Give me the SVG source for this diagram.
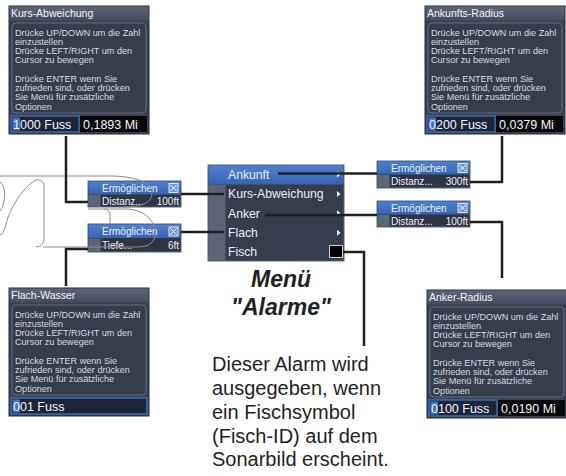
<svg xmlns="http://www.w3.org/2000/svg" width="566" height="476" viewBox="0 0 566 476">
<defs>
<linearGradient id="tg" x1="0" y1="0" x2="0" y2="1"><stop offset="0" stop-color="#5d6577"/><stop offset="1" stop-color="#454c5d"/></linearGradient>
<linearGradient id="bg" x1="0" y1="0" x2="0" y2="1"><stop offset="0" stop-color="#4f82d2"/><stop offset="1" stop-color="#3563b0"/></linearGradient>
<style>
.pan{fill:#3a4150;stroke:#262b36;stroke-width:1}
.ttl{fill:url(#tg)}
.tt{font-family:"Liberation Sans",Arial,sans-serif;font-size:10.5px;fill:#f2f4f8}
.box{fill:#363d4b;stroke:#646d7e;stroke-width:1}
.tx{font-family:"Liberation Sans",Arial,sans-serif;font-size:9.1px;fill:#d6dae2}
.fl{fill:#1d2639;stroke:#3d6ab4;stroke-width:1.5}
.hl{fill:#3f74c8}
.fr{fill:#060709}
.ft{font-family:"Liberation Sans",Arial,sans-serif;font-size:12.5px;fill:#f4f6fa}
.sp{fill:#2e3544;stroke:#606878;stroke-width:1}
.bl{fill:url(#bg)}
.st{font-family:"Liberation Sans",Arial,sans-serif;font-size:10px;fill:#eef2fa}
.sq{fill:#5d6678}
.cb{fill:#6b95d6;stroke:#ffffff;stroke-width:0.8}
.cx{stroke:#ffffff;stroke-width:1}
.mt{font-family:"Liberation Sans",Arial,sans-serif;font-size:12.2px;fill:#eceef3}
.ar{fill:#ffffff}
.wm{fill:none;stroke:#8c8c8c;stroke-width:1}
.cn{fill:none;stroke:#231f20;stroke-width:2.5}
.big{font-family:"Liberation Sans",Arial,sans-serif;font-size:23px;font-weight:bold;font-style:italic;fill:#231f20}
.cap{font-family:"Liberation Sans",Arial,sans-serif;font-size:20px;fill:#231f20}
</style>
</defs>
<rect width="566" height="476" fill="#ffffff"/>

<g id="kurs-abweichung" transform="translate(9,6)">
<rect class="pan" x="0" y="0" width="140" height="128"/>
<rect class="ttl" x="0.5" y="0.5" width="139" height="14"/>
<text class="tt" x="2" y="11">Kurs-Abweichung</text>
<rect class="box" x="3" y="17" width="134" height="90" rx="4"/>
<text class="tx" x="6" y="29.5">Drücke UP/DOWN um die Zahl</text>
<text class="tx" x="6" y="38.75">einzustellen</text>
<text class="tx" x="6" y="48">Drücke LEFT/RIGHT um den</text>
<text class="tx" x="6" y="57.25">Cursor zu bewegen</text>
<text class="tx" x="6" y="75.75">Drücke ENTER wenn Sie</text>
<text class="tx" x="6" y="85">zufrieden sind, oder drücken</text>
<text class="tx" x="6" y="94.25">Sie Menü für zusätzliche</text>
<text class="tx" x="6" y="103.5">Optionen</text>
<rect class="fl" x="2" y="110" width="68" height="16"/>
<rect class="hl" x="3.5" y="111.5" width="7.5" height="13"/>
<text class="ft" x="4" y="122.5">1000 Fuss</text>
<rect class="fr" x="71" y="110" width="67" height="16"/>
<text class="ft" x="74" y="122.5">0,1893 Mi</text>
</g>

<g id="ankunfts-radius" transform="translate(425,6)">
<rect class="pan" x="0" y="0" width="140" height="128"/>
<rect class="ttl" x="0.5" y="0.5" width="139" height="14"/>
<text class="tt" x="2" y="11">Ankunfts-Radius</text>
<rect class="box" x="3" y="17" width="134" height="90" rx="4"/>
<text class="tx" x="6" y="29.5">Drücke UP/DOWN um die Zahl</text>
<text class="tx" x="6" y="38.75">einzustellen</text>
<text class="tx" x="6" y="48">Drücke LEFT/RIGHT um den</text>
<text class="tx" x="6" y="57.25">Cursor zu bewegen</text>
<text class="tx" x="6" y="75.75">Drücke ENTER wenn Sie</text>
<text class="tx" x="6" y="85">zufrieden sind, oder drücken</text>
<text class="tx" x="6" y="94.25">Sie Menü für zusätzliche</text>
<text class="tx" x="6" y="103.5">Optionen</text>
<rect class="fl" x="2" y="110" width="68" height="16"/>
<rect class="hl" x="3.5" y="111.5" width="7.5" height="13"/>
<text class="ft" x="4" y="122.5">0200 Fuss</text>
<rect class="fr" x="71" y="110" width="67" height="16"/>
<text class="ft" x="74" y="122.5">0,0379 Mi</text>
</g>

<g id="flach-wasser" transform="translate(9,288)">
<rect class="pan" x="0" y="0" width="140" height="128"/>
<rect class="ttl" x="0.5" y="0.5" width="139" height="14"/>
<text class="tt" x="2" y="11">Flach-Wasser</text>
<rect class="box" x="3" y="17" width="134" height="90" rx="4"/>
<text class="tx" x="6" y="29.5">Drücke UP/DOWN um die Zahl</text>
<text class="tx" x="6" y="38.75">einzustellen</text>
<text class="tx" x="6" y="48">Drücke LEFT/RIGHT um den</text>
<text class="tx" x="6" y="57.25">Cursor zu bewegen</text>
<text class="tx" x="6" y="75.75">Drücke ENTER wenn Sie</text>
<text class="tx" x="6" y="85">zufrieden sind, oder drücken</text>
<text class="tx" x="6" y="94.25">Sie Menü für zusätzliche</text>
<text class="tx" x="6" y="103.5">Optionen</text>
<rect class="fl" x="2" y="110" width="136" height="16"/>
<rect class="hl" x="3.5" y="111.5" width="7.5" height="13"/>
<text class="ft" x="4" y="122.5">001 Fuss</text>
</g>

<g id="anker-radius" transform="translate(427,290)">
<rect class="pan" x="0" y="0" width="140" height="128"/>
<rect class="ttl" x="0.5" y="0.5" width="139" height="14"/>
<text class="tt" x="2" y="11">Anker-Radius</text>
<rect class="box" x="3" y="17" width="134" height="90" rx="4"/>
<text class="tx" x="6" y="29.5">Drücke UP/DOWN um die Zahl</text>
<text class="tx" x="6" y="38.75">einzustellen</text>
<text class="tx" x="6" y="48">Drücke LEFT/RIGHT um den</text>
<text class="tx" x="6" y="57.25">Cursor zu bewegen</text>
<text class="tx" x="6" y="75.75">Drücke ENTER wenn Sie</text>
<text class="tx" x="6" y="85">zufrieden sind, oder drücken</text>
<text class="tx" x="6" y="94.25">Sie Menü für zusätzliche</text>
<text class="tx" x="6" y="103.5">Optionen</text>
<rect class="fl" x="2" y="110" width="68" height="16"/>
<rect class="hl" x="3.5" y="111.5" width="7.5" height="13"/>
<text class="ft" x="4" y="122.5">0100 Fuss</text>
<rect class="fr" x="71" y="110" width="67" height="16"/>
<text class="ft" x="74" y="122.5">0,0190 Mi</text>
</g>

<g id="menu">
<rect x="208" y="165" width="136" height="96" fill="#363d4c" stroke="#5f6779" stroke-width="1"/>
<rect x="208.5" y="184.5" width="17" height="76" fill="#5b6375"/>
<rect class="bl" x="208.5" y="165.5" width="135" height="19"/>
<text class="mt" x="228" y="179">Ankunft</text>
<text class="mt" x="228" y="198.3">Kurs-Abweichung</text>
<text class="mt" x="228" y="217.6">Anker</text>
<text class="mt" x="228" y="237">Flach</text>
<text class="mt" x="228" y="256.3">Fisch</text>
<path class="ar" d="M337,171.5 L340.5,174.5 L337,177.5Z M337,191 L340.5,194 L337,197Z M337,210.3 L340.5,213.3 L337,216.3Z M337,229.7 L340.5,232.7 L337,235.7Z"/>
<rect x="329.5" y="245.5" width="13" height="12" fill="#000000" stroke="#c9ccd3" stroke-width="1"/>
</g>

<g id="opt-kurs" transform="translate(88,181)">
<rect class="sp" x="0" y="0" width="93" height="26"/>
<rect class="bl" x="0.5" y="0.5" width="92" height="13"/>
<text class="st" x="14" y="10.5">Ermöglichen</text>
<rect class="cb" x="81" y="2.5" width="9" height="9"/>
<path class="cx" d="M82.5,4 L88.5,10 M88.5,4 L82.5,10"/>
<rect class="sq" x="0.5" y="14" width="12" height="11.5"/>
<text class="st" x="14" y="23.5" fill="#dde1e8">Distanz...</text>
<text class="st" x="91" y="23.5" text-anchor="end">100ft</text>
</g>

<g id="opt-flach" transform="translate(88,224)">
<rect class="sp" x="0" y="0" width="93" height="28"/>
<rect class="bl" x="0.5" y="0.5" width="92" height="13.5"/>
<text class="st" x="14" y="11">Ermöglichen</text>
<rect class="cb" x="81" y="3" width="9" height="9"/>
<path class="cx" d="M82.5,4.5 L88.5,10.5 M88.5,4.5 L82.5,10.5"/>
<rect class="sq" x="0.5" y="14.5" width="12" height="13"/>
<text class="st" x="14" y="25">Tiefe...</text>
<text class="st" x="91" y="25" text-anchor="end">6ft</text>
</g>

<g id="opt-ankunft" transform="translate(377,161)">
<rect class="sp" x="0" y="0" width="93" height="27"/>
<rect class="bl" x="0.5" y="0.5" width="92" height="13"/>
<text class="st" x="14" y="10.5">Ermöglichen</text>
<rect class="cb" x="81" y="2.5" width="9" height="9"/>
<path class="cx" d="M82.5,4 L88.5,10 M88.5,4 L82.5,10"/>
<rect class="sq" x="0.5" y="14" width="12" height="12.5"/>
<text class="st" x="14" y="24">Distanz...</text>
<text class="st" x="91" y="24" text-anchor="end">300ft</text>
</g>

<g id="opt-anker" transform="translate(377,201)">
<rect class="sp" x="0" y="0" width="93" height="26"/>
<rect class="bl" x="0.5" y="0.5" width="92" height="13"/>
<text class="st" x="14" y="10.5">Ermöglichen</text>
<rect class="cb" x="81" y="2.5" width="9" height="9"/>
<path class="cx" d="M82.5,4 L88.5,10 M88.5,4 L82.5,10"/>
<rect class="sq" x="0.5" y="14" width="12" height="11.5"/>
<text class="st" x="14" y="23.5">Distanz...</text>
<text class="st" x="91" y="23.5" text-anchor="end">100ft</text>
</g>

<g id="watermark">
<path class="wm" d="M0,176 H110 C124,176 140,178 148,185 C154,191 153,199 146,203 C140,206 131,207 123,207"/>
<path class="wm" d="M88,209 H104 C108,209 110,212 110,216 V224"/>
<path class="wm" d="M104,209 H128 C140,210 151,216 155,228 C157,236 154,243 146,246 C141,247 137,247 133,247 H43"/>
<path class="wm" d="M36,247 C41,247 44,243 44,238 V186 C44,181 39,178 34,181 C22,189 10,208 6,224 C4,231 3,234 0,235"/>
<path class="wm" d="M0,182 C5,186 6,195 3,205 C2,208 1,210 0,211"/>
</g>

<g id="connectors">
<path class="cn" d="M66,136 V202 H88"/>
<path class="cn" d="M181,194 H224"/>
<path class="cn" d="M181,232 H224"/>
<path class="cn" d="M88,249 H66 V286"/>
<path class="cn" d="M278,173.5 H377"/>
<path class="cn" d="M470,182 H502 V136"/>
<path class="cn" d="M265,215 H377"/>
<path class="cn" d="M470,222 H502 V278"/>
<path class="cn" d="M343,252 H364 V346"/>
</g>

<g id="title">
<text class="big" x="281" y="287" text-anchor="middle">Menü</text>
<text class="big" x="281" y="315" text-anchor="middle">"Alarme"</text>
</g>

<g id="caption">
<text class="cap" x="212" y="371">Dieser Alarm wird</text>
<text class="cap" x="212" y="395">ausgegeben, wenn</text>
<text class="cap" x="212" y="419">ein Fischsymbol</text>
<text class="cap" x="212" y="442.5">(Fisch-ID) auf dem</text>
<text class="cap" x="212" y="466">Sonarbild erscheint.</text>
</g>
</svg>
